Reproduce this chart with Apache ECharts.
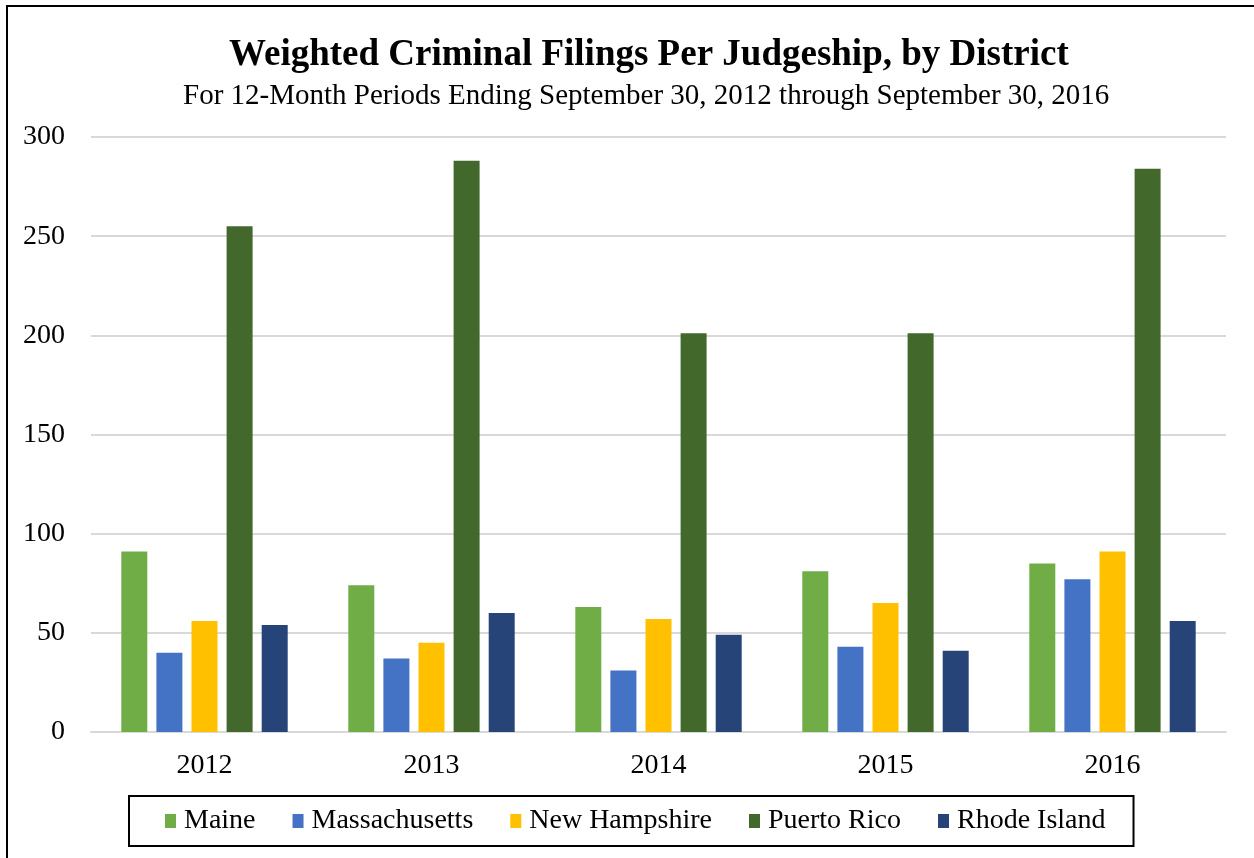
<!DOCTYPE html>
<html>
<head>
<meta charset="utf-8">
<script src="https://cdn.jsdelivr.net/npm/echarts@6/dist/echarts.min.js"></script>
<style>
    html, body { margin: 0; padding: 0; background: #fff; }
    #chart { width: 1254px; height: 858px; }
</style>
</head>
<body>
<div id="chart"></div>
<script>
// 数据
var years = ["2012", "2013", "2014", "2015", "2016"];
var maine = [91, 74, 63, 81, 85];
var massachusetts = [40, 37, 31, 43, 77];
var newHampshire = [56, 45, 57, 65, 91];
var puertoRico = [255, 288, 201, 201, 284];
var rhodeIsland = [54, 60, 49, 41, 56];
var yTicks = [0, 50, 100, 150, 200, 250, 300];

(function () {
    var myChart = echarts.init(document.getElementById('chart'));
    var font = '"Liberation Serif", "Times New Roman", serif';

    function bar(name, data, color) {
        return {
            name: name,
            type: 'bar',
            data: data,
            barWidth: 26,
            barGap: '35%',
            itemStyle: { color: color }
        };
    }

    var option = {
        animation: false,
        textStyle: { fontFamily: font },
        title: [{
            text: 'Weighted Criminal Filings Per Judgeship, by District',
            left: 224,
            top: 32,
            textStyle: { fontFamily: font, fontSize: 37, fontWeight: 'bold', color: '#000' }
        }, {
            text: 'For 12-Month Periods Ending September 30, 2012 through September 30, 2016',
            left: 178,
            top: 77,
            textStyle: { fontFamily: font, fontSize: 29, fontWeight: 'normal', color: '#000' }
        }],
        // 外框
        graphic: [{
            type: 'rect',
            shape: { x: 7, y: 6, width: 1270, height: 880 },
            style: { fill: 'none', stroke: '#000', lineWidth: 2 }
        }],
        grid: {
            left: 91,
            right: 28,
            top: 137,
            bottom: 126
        },
        legend: {
            top: 796,
            left: 129,
            padding: [11, 28, 11, 36],
            borderColor: '#000',
            borderWidth: 2,
            itemGap: 37,
            itemWidth: 11,
            itemHeight: 14,
            icon: 'rect',
            textStyle: { fontFamily: font, fontSize: 28, color: '#000', padding: [0, 0, 0, 3] }
        },
        xAxis: {
            type: 'category',
            data: years,
            axisTick: { show: false },
            axisLine: { lineStyle: { color: '#d9d9d9', width: 2 } },
            axisLabel: { color: '#000', fontSize: 28, fontFamily: font, margin: 20 }
        },
        yAxis: {
            type: 'value',
            min: yTicks[0],
            max: yTicks[yTicks.length - 1],
            interval: 50,
            axisLine: { show: false },
            axisTick: { show: false },
            axisLabel: { color: '#000', fontSize: 28, fontFamily: font, margin: 26 },
            splitLine: { lineStyle: { color: '#d9d9d9', width: 2 } }
        },
        series: [
            bar('Maine', maine, '#70AD47'),
            bar('Massachusetts', massachusetts, '#4472C4'),
            bar('New Hampshire', newHampshire, '#FFC000'),
            bar('Puerto Rico', puertoRico, '#43682B'),
            bar('Rhode Island', rhodeIsland, '#264478')
        ]
    };
    myChart.setOption(option);
})();
</script>
</body>
</html>
